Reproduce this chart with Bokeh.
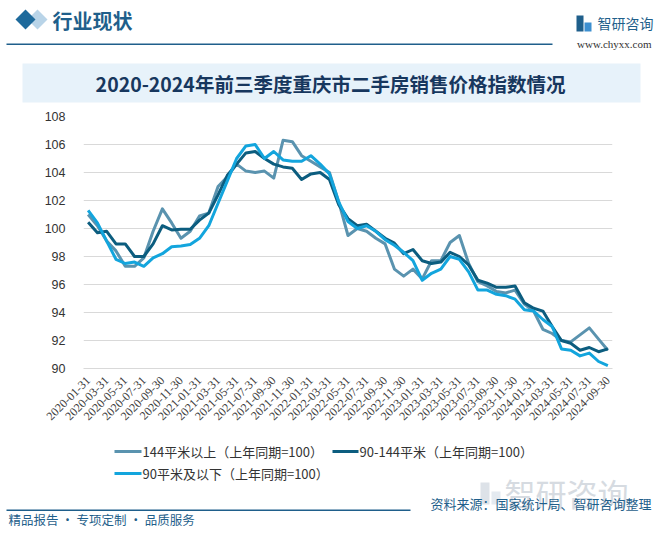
import math
import pandas as pd
from bokeh.plotting import figure
from bokeh.layouts import column
from bokeh.models import Range1d, FixedTicker
from bokeh.core.properties import value
from bokeh.embed import file_html
from bokeh.resources import INLINE

# ---------------- data ----------------
months = [d.strftime("%Y-%m-%d") for d in pd.date_range("2020-01-31", "2024-09-30", freq="ME")]

series_names = ["144平米以上（上年同期=100）", "90-144平米（上年同期=100）", "90平米及以下（上年同期=100）"]

above_144 = [101.0, 100.2, 99.1, 98.4, 97.3, 97.3, 97.9, 99.8, 101.4, 100.4, 99.3, 99.8,
             100.9, 101.1, 103.0, 103.7, 104.6, 104.1, 104.0, 104.1, 103.6, 106.3, 106.2, 105.2,
             104.8, 104.4, 104.0, 101.9, 99.5, 100.0, 99.8, 99.3, 98.9, 97.1, 96.6, 97.1,
             96.4, 97.7, 97.7, 99.0, 99.5, 97.5, 96.2, 95.9, 95.5, 95.4, 95.6, 94.6,
             94.1, 92.8, 92.5, 92.0, 91.9, 92.4, 92.9, 92.1, 91.3]

mid_90_144 = [100.45, 99.7, 99.8, 98.9, 98.9, 98.0, 98.0, 98.9, 100.2, 99.9, 99.95, 99.95,
              100.6, 101.1, 102.4, 103.8, 104.6, 105.4, 105.5, 105.0, 104.6, 104.4, 104.3, 103.5,
              103.9, 104.0, 103.5, 101.7, 100.7, 100.2, 100.3, 99.8, 99.3, 98.95, 98.2, 98.5,
              97.7, 97.5, 97.6, 98.3, 98.0, 97.4, 96.3, 96.1, 95.8, 95.8, 95.9, 94.7,
              94.3, 94.1, 93.0, 92.0, 91.8, 91.3, 91.5, 91.2, 91.4]

below_90 = [101.3, 100.4, 99.1, 97.8, 97.5, 97.6, 97.3, 97.9, 98.2, 98.7, 98.75, 98.85,
            99.3, 100.2, 101.8, 103.4, 105.0, 105.9, 106.0, 105.0, 105.5, 104.9, 104.8, 104.8,
            105.2, 104.6, 103.9, 101.9, 100.5, 100.0, 100.2, 99.8, 99.2, 98.8, 98.3, 97.7,
            96.3, 96.8, 97.1, 98.0, 97.8, 96.9, 95.6, 95.6, 95.3, 95.2, 94.95, 94.2,
            94.1, 93.5, 93.0, 91.4, 91.3, 90.9, 91.1, 90.5, 90.2]

y_ticks = [90, 92, 94, 96, 98, 100, 102, 104, 106, 108]

colors = ["#5a93af", "#0c5d7f", "#13a5dd"]

W = 660
TOP_H, MAIN_H, BOT_H = 108, 330, 98
CJK = "Noto Sans CJK SC"


def deco_fig(h):
    f = figure(width=W, height=h, output_backend="svg", toolbar_location=None,
               x_range=Range1d(0, W), y_range=Range1d(h, 0),
               x_axis_type=None, y_axis_type=None, min_border=0, frame_align=False,
               background_fill_color="white", border_fill_color="white", outline_line_color=None)
    f.xgrid.visible = False
    f.ygrid.visible = False
    return f


def txt(f, x, y, s, size, color, font=CJK, align="left", style="normal"):
    f.text(x=[x], y=[y], text=[s], text_font=value(font), text_font_size=size,
           text_color=color, text_align=align, text_baseline="middle", text_font_style=style)


def rect(f, x0, y0, x1, y1, color):
    f.quad(left=[x0], right=[x1], top=[y0], bottom=[y1], fill_color=color, line_color=None)


# ---------------- top: header + title ----------------
top = deco_fig(TOP_H)
top.patch([37, 47, 37, 27], [9, 19, 29, 19], fill_color="#b9d4e8", line_color=None)
top.patch([25, 35, 25, 15], [9, 19, 29, 19], fill_color="#1e6a9c", line_color=None)
txt(top, 52, 20, "行业现状", "20px", "#1f5f8b", style="bold")
rect(top, 6, 43, 552, 44.5, "#1f5f8b")
rect(top, 576, 15, 583, 31, "#1f5f8b")
rect(top, 584, 22, 591, 31, "#3d8fd0")
txt(top, 597, 22, "智研咨询", "14px", "#1f5f8b")
txt(top, 651, 43, "www.chyxx.com", "11px", "#333333", font="Liberation Serif", align="right")
rect(top, 22, 63, 640, 102, "#e7f2fa")
txt(top, 330, 83, "2020-2024年前三季度重庆市二手房销售价格指数情况", "19.5px", "#17375e",
    align="center", style="bold")

# ---------------- main chart ----------------
p = figure(width=W, height=MAIN_H, output_backend="svg", toolbar_location=None,
           x_range=Range1d(-0.5, len(months) - 0.5), y_range=Range1d(90, 108),
           min_border_left=83, min_border_right=48, min_border_top=8, min_border_bottom=70,
           frame_align=False,
           background_fill_color="white", border_fill_color="white", outline_line_color=None)

xs = list(range(len(months)))
for vals, c in zip([above_144, mid_90_144, below_90], colors):
    p.line(xs, vals, line_color=c, line_width=3, line_join="round")

p.xgrid.visible = False
p.ygrid.grid_line_color = "#d9d9d9"
p.ygrid.grid_line_width = 1

p.yaxis.ticker = FixedTicker(ticks=y_ticks)
p.yaxis.axis_line_color = None
p.yaxis.major_tick_line_color = None
p.yaxis.minor_tick_line_color = None
p.yaxis.major_label_standoff = 12
p.yaxis.major_label_text_font = "Liberation Sans"
p.yaxis.major_label_text_font_size = "12.5px"
p.yaxis.major_label_text_color = "#333333"

tick_idx = list(range(0, len(months), 2))
p.xaxis.ticker = FixedTicker(ticks=tick_idx)
p.xaxis.major_label_overrides = {i: months[i] for i in tick_idx}
p.xaxis.major_label_orientation = math.pi / 4
p.xaxis.axis_line_color = "#d9d9d9"
p.xaxis.major_tick_line_color = None
p.xaxis.minor_tick_line_color = None
p.xaxis.major_label_standoff = 4
p.xaxis.major_label_text_font = "Liberation Serif"
p.xaxis.major_label_text_font_size = "12px"
p.xaxis.major_label_text_color = "#404040"

# ---------------- bottom: legend + footer ----------------
bot = deco_fig(BOT_H)
off = TOP_H + MAIN_H
# watermark logo
rect(bot, 480, 482 - off, 489, 504 - off, "#dde2e8")
rect(bot, 491, 491 - off, 500, 504 - off, "#e4eaf0")
txt(bot, 504, 492 - off, "智研咨询", "31px", "#d6dbe1")

leg = [(114, 141, 451), (332, 358, 451), (114, 141, 473)]
for (l0, l1, ly), name, c in zip(leg, series_names, colors):
    rect(bot, l0, ly - off - 1.5, l1, ly - off + 1.5, c)
    txt(bot, l1 + 1, ly - off, name, "13px", "#333333")

rect(bot, 6, 509 - off, 410, 510.5 - off, "#1f5f8b")
txt(bot, 651, 503 - off, "资料来源：国家统计局、智研咨询整理", "13px", "#1f5f8b", align="right")
txt(bot, 8, 519 - off, "精品报告 · 专项定制 · 品质服务", "12.5px", "#1f5f8b")

layout = column(top, p, bot, spacing=0)
open("out.html", "w").write(file_html(layout, INLINE))
